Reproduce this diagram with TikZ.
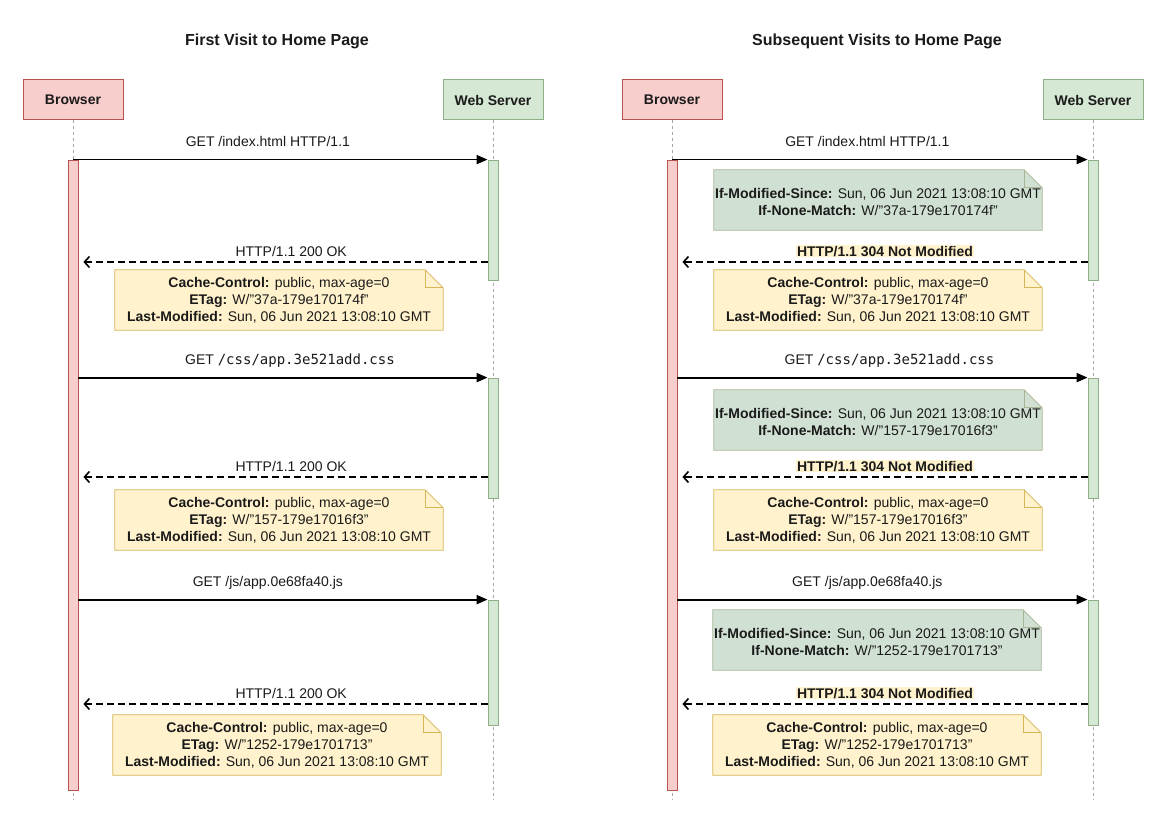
\documentclass[tikz,border=0pt]{standalone}
\usepackage{fontspec}
\setmainfont{Liberation Sans}
\newfontfamily\monofont{DejaVu Sans Mono}
\usetikzlibrary{arrows.meta,backgrounds}
\definecolor{redfill}{HTML}{F8CECC}
\definecolor{redline}{HTML}{B85450}
\definecolor{grnfill}{HTML}{D5E8D4}
\definecolor{grnline}{HTML}{8FAF88}
\definecolor{ylwfill}{HTML}{FFF2CC}
\definecolor{ylwline}{HTML}{D6B656}
\definecolor{gnote}{HTML}{D0E1D4}
\definecolor{gnoteline}{HTML}{A9B495}
\definecolor{txt}{HTML}{1A1A1A}
\newcommand\foldnote[3]{%
  \begin{scope}[on background layer]
    \filldraw[fill=#2,draw=#3,line width=0.8pt] (#1.north west) -- ([xshift=-18pt]#1.north east) -- ([yshift=-18pt]#1.north east) -- (#1.south east) -- (#1.south west) -- cycle;
    \draw[#3,line width=0.8pt] ([xshift=-18pt]#1.north east) |- ([yshift=-18pt]#1.north east);
  \end{scope}}
\begin{document}
\begin{tikzpicture}[x=1pt,y=-1pt,
  every node/.style={text=txt},
  title/.style={font=\bfseries\fontsize{16}{18}\selectfont},
  actor/.style={draw=#1line,fill=#1fill,line width=1pt,minimum width=100pt,minimum height=40pt,font=\bfseries\fontsize{14}{16}\selectfont},
  bar/.style={draw=#1line,fill=#1fill,line width=0.8pt,minimum width=10pt,inner sep=0pt},
  lifeline/.style={draw=gray!70,line width=0.6pt,dash pattern=on 3pt off 3pt},
  note/.style={minimum width=328pt,minimum height=60pt,align=center,inner sep=0pt,font=\fontsize{14}{17}\selectfont},
  gtext/.style={align=center,font=\fontsize{14}{17}\selectfont,inner sep=0pt},
  req/.style={line width=1.8pt,-{Triangle[length=11pt,width=9pt]}},
  resp/.style={line width=1.8pt,dash pattern=on 7pt off 4pt,-{Straight Barb[length=5pt,width=11pt,line width=1.6pt]}},
  lbl/.style={anchor=base,font=\fontsize{14}{16}\selectfont,inner sep=1pt},
  nm/.style={lbl,fill=ylwfill,font=\bfseries\fontsize{14}{16}\selectfont}
]
\useasboundingbox (0,0) rectangle (1161,821);
\begin{scope}[on background layer]
\fill[white] (0,0) rectangle (1161,821);
\end{scope}

% ---------------- Left: first visit ----------------
\node[title] (lt) at (277,41) {First Visit to Home Page};
\node[actor=red] (lb) at (73,100) {Browser};
\node[actor=grn] (ls) at (493,100) {Web Server};
\coordinate (lbe) at (73,800);
\coordinate (lse) at (493,800);
\draw[lifeline] (lb.south) -- (lbe);
\draw[lifeline] (ls.south) -- (lse);
\node[bar=red,minimum height=630pt] (lbb) at (73,475) {};
\node[bar=grn,minimum height=120pt] (ls1) at (493,220) {};
\node[bar=grn,minimum height=120pt] (ls2) at (493,438) {};
\node[bar=grn,minimum height=125pt] (ls3) at (493,662.5) {};

\draw[req] (lbb.north |- ls1.north) -- node[lbl,pos=0.47,yshift=13pt] {GET /index.html HTTP/1.1} (ls1.north west);
\draw[resp] (ls1.west |- 0,262) -- node[lbl,pos=0.486,yshift=6pt] {HTTP/1.1 200 OK} ([xshift=5pt]lbb.east |- 0,262);
\node[note] (ln1) at (279,300) {\textbf{Cache-Control:} public, max-age=0\\\textbf{ETag:} W/"37a-179e170174f"\\\textbf{Last-Modified:} Sun, 06 Jun 2021 13:08:10 GMT};
\foldnote{ln1}{ylwfill}{ylwline}

\draw[req] (lbb.east |- ls2.north) -- node[lbl,pos=0.517,yshift=13pt] {GET {\monofont\fontsize{14}{16}\selectfont /css/app.3e521add.css}} (ls2.north west);
\draw[resp] (ls2.west |- 0,477) -- node[lbl,pos=0.486,yshift=6pt] {HTTP/1.1 200 OK} ([xshift=5pt]lbb.east |- 0,477);
\node[note] (ln2) at (279,520) {\textbf{Cache-Control:} public, max-age=0\\\textbf{ETag:} W/"157-179e17016f3"\\\textbf{Last-Modified:} Sun, 06 Jun 2021 13:08:10 GMT};
\foldnote{ln2}{ylwfill}{ylwline}

\draw[req] (lbb.east |- ls3.north) -- node[lbl,pos=0.463,yshift=13pt] {GET /js/app.0e68fa40.js} (ls3.north west);
\draw[resp] (ls3.west |- 0,704) -- node[lbl,pos=0.486,yshift=6pt] {HTTP/1.1 200 OK} ([xshift=5pt]lbb.east |- 0,704);
\node[note] (ln3) at (277,745) {\textbf{Cache-Control:} public, max-age=0\\\textbf{ETag:} W/"1252-179e1701713"\\\textbf{Last-Modified:} Sun, 06 Jun 2021 13:08:10 GMT};
\foldnote{ln3}{ylwfill}{ylwline}

% ---------------- Right: subsequent visits ----------------
\node[title] (rt) at (877,41) {Subsequent Visits to Home Page};
\node[actor=red] (rb) at (672,100) {Browser};
\node[actor=grn] (rs) at (1093,100) {Web Server};
\coordinate (rbe) at (672,800);
\coordinate (rse) at (1093,800);
\draw[lifeline] (rb.south) -- (rbe);
\draw[lifeline] (rs.south) -- (rse);
\node[bar=red,minimum height=630pt] (rbb) at (672,475) {};
\node[bar=grn,minimum height=120pt] (rs1) at (1093,220) {};
\node[bar=grn,minimum height=120pt] (rs2) at (1093,438) {};
\node[bar=grn,minimum height=125pt] (rs3) at (1093,662.5) {};

\draw[req] (rbb.north |- rs1.north) -- node[lbl,pos=0.47,yshift=13pt] {GET /index.html HTTP/1.1} (rs1.north west);
\node[note] (rg1) at (878,200) {};
\node[gtext] (rg1t) at (878,202) {\textbf{If-Modified-Since:} Sun, 06 Jun 2021 13:08:10 GMT\\\textbf{If-None-Match:} W/"37a-179e170174f"};
\foldnote{rg1}{gnote}{gnoteline}
\draw[resp] (rs1.west |- 0,262) -- node[nm,pos=0.50,yshift=6pt] {HTTP/1.1 304 Not Modified} ([xshift=5pt]rbb.east |- 0,262);
\node[note] (rn1) at (878,300) {\textbf{Cache-Control:} public, max-age=0\\\textbf{ETag:} W/"37a-179e170174f"\\\textbf{Last-Modified:} Sun, 06 Jun 2021 13:08:10 GMT};
\foldnote{rn1}{ylwfill}{ylwline}

\draw[req] (rbb.east |- rs2.north) -- node[lbl,pos=0.517,yshift=13pt] {GET {\monofont\fontsize{14}{16}\selectfont /css/app.3e521add.css}} (rs2.north west);
\node[note] (rg2) at (878,420) {};
\node[gtext] (rg2t) at (878,422) {\textbf{If-Modified-Since:} Sun, 06 Jun 2021 13:08:10 GMT\\\textbf{If-None-Match:} W/"157-179e17016f3"};
\foldnote{rg2}{gnote}{gnoteline}
\draw[resp] (rs2.west |- 0,477) -- node[nm,pos=0.50,yshift=6pt] {HTTP/1.1 304 Not Modified} ([xshift=5pt]rbb.east |- 0,477);
\node[note] (rn2) at (878,520) {\textbf{Cache-Control:} public, max-age=0\\\textbf{ETag:} W/"157-179e17016f3"\\\textbf{Last-Modified:} Sun, 06 Jun 2021 13:08:10 GMT};
\foldnote{rn2}{ylwfill}{ylwline}

\draw[req] (rbb.east |- rs3.north) -- node[lbl,pos=0.463,yshift=13pt] {GET /js/app.0e68fa40.js} (rs3.north west);
\node[note] (rg3) at (877,640) {};
\node[gtext] (rg3t) at (877,642) {\textbf{If-Modified-Since:} Sun, 06 Jun 2021 13:08:10 GMT\\\textbf{If-None-Match:} W/"1252-179e1701713"};
\foldnote{rg3}{gnote}{gnoteline}
\draw[resp] (rs3.west |- 0,704) -- node[nm,pos=0.50,yshift=6pt] {HTTP/1.1 304 Not Modified} ([xshift=5pt]rbb.east |- 0,704);
\node[note] (rn3) at (877,745) {\textbf{Cache-Control:} public, max-age=0\\\textbf{ETag:} W/"1252-179e1701713"\\\textbf{Last-Modified:} Sun, 06 Jun 2021 13:08:10 GMT};
\foldnote{rn3}{ylwfill}{ylwline}
\end{tikzpicture}
\end{document}
